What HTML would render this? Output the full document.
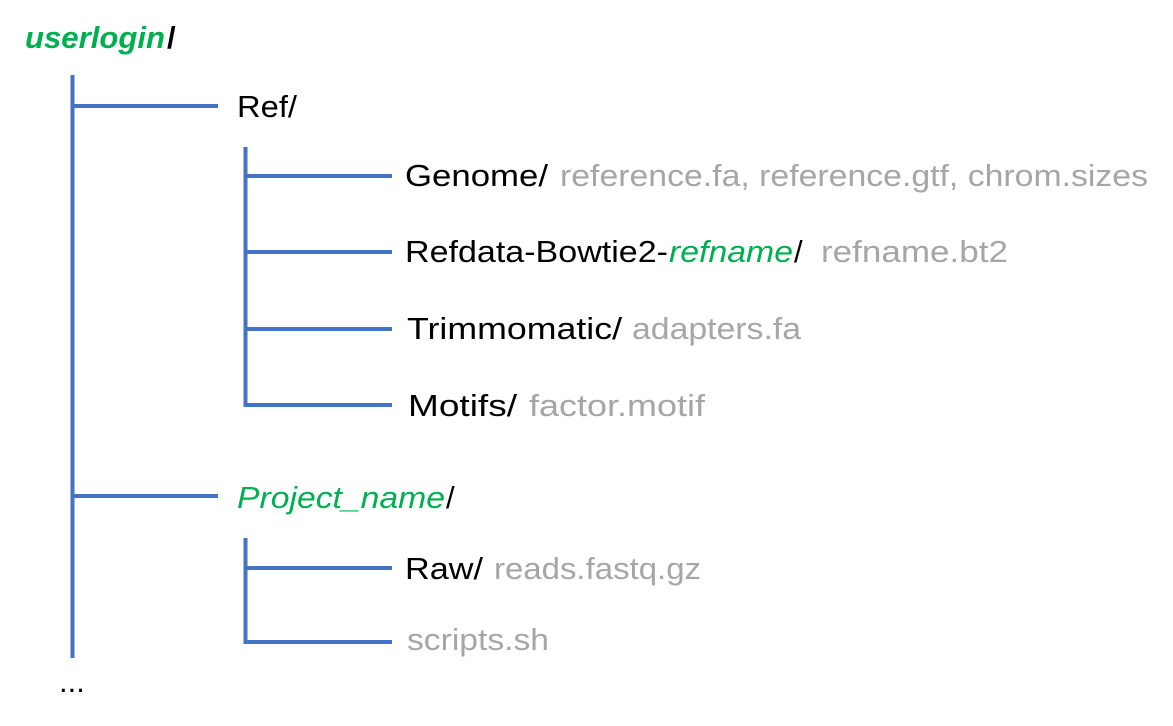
<!DOCTYPE html>
<html><head><meta charset="utf-8"><style>
html,body{margin:0;padding:0;background:#fff;width:1173px;height:726px;overflow:hidden}
text{font-family:"Liberation Sans",sans-serif;font-size:31px}
.k{fill:#000}.g{fill:#00B050}.y{fill:#A6A6A6}
</style></head><body>
<svg width="1173" height="726" viewBox="0 0 1173 726" xmlns="http://www.w3.org/2000/svg">
<g stroke="#4472C4" stroke-width="4" fill="none">
<line x1="72.5" y1="75" x2="72.5" y2="658"/>
<line x1="72" y1="106" x2="218" y2="106"/>
<line x1="72" y1="496" x2="218" y2="496"/>
<line x1="245.5" y1="147" x2="245.5" y2="407"/>
<line x1="245" y1="176" x2="392" y2="176"/>
<line x1="245" y1="252" x2="392" y2="252"/>
<line x1="245" y1="329" x2="392" y2="329"/>
<line x1="245" y1="405" x2="392" y2="405"/>
<line x1="245.5" y1="538" x2="245.5" y2="644"/>
<line x1="245" y1="568" x2="392" y2="568"/>
<line x1="245" y1="642" x2="392" y2="642"/>
</g>
<text x="25" y="48" class="g" font-weight="bold" font-style="italic" textLength="140" lengthAdjust="spacingAndGlyphs">userlogin</text>
<text x="167" y="48" class="k" font-weight="bold">/</text>
<text x="237" y="117" class="k" textLength="60" lengthAdjust="spacingAndGlyphs">Ref/</text>
<text x="405" y="186" class="k" textLength="143" lengthAdjust="spacingAndGlyphs">Genome/</text>
<text x="560" y="186" class="y" textLength="588" lengthAdjust="spacingAndGlyphs">reference.fa, reference.gtf, chrom.sizes</text>
<text x="405" y="262" class="k" textLength="263" lengthAdjust="spacingAndGlyphs">Refdata-Bowtie2-</text>
<text x="669" y="262" class="g" font-style="italic" textLength="124" lengthAdjust="spacingAndGlyphs">refname</text>
<text x="794" y="262" class="k">/</text>
<text x="821" y="262" class="y" textLength="187" lengthAdjust="spacingAndGlyphs">refname.bt2</text>
<text x="407" y="339" class="k" textLength="215" lengthAdjust="spacingAndGlyphs">Trimmomatic/</text>
<text x="632" y="339" class="y" textLength="169" lengthAdjust="spacingAndGlyphs">adapters.fa</text>
<text x="408" y="416" class="k" textLength="109" lengthAdjust="spacingAndGlyphs">Motifs/</text>
<text x="529" y="416" class="y" textLength="176" lengthAdjust="spacingAndGlyphs">factor.motif</text>
<text x="237" y="508" class="g" font-style="italic" textLength="208" lengthAdjust="spacingAndGlyphs">Project_name</text>
<text x="446" y="508" class="k">/</text>
<text x="405" y="579" class="k" textLength="78" lengthAdjust="spacingAndGlyphs">Raw/</text>
<text x="494" y="579" class="y" textLength="207" lengthAdjust="spacingAndGlyphs">reads.fastq.gz</text>
<text x="407" y="650" class="y" textLength="142" lengthAdjust="spacingAndGlyphs">scripts.sh</text>
<text x="59" y="692" class="k" font-size="32">...</text>
</svg>
</body></html>
